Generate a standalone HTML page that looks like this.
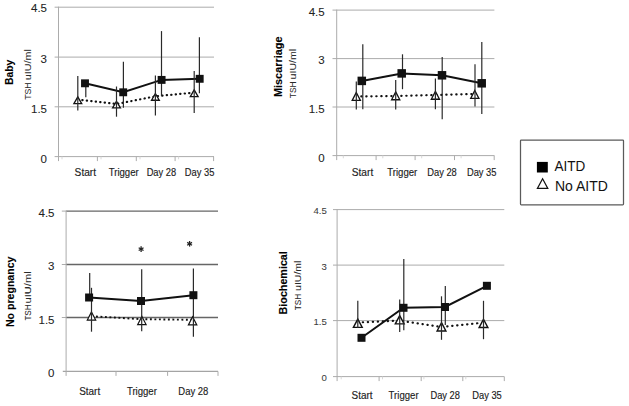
<!DOCTYPE html>
<html><head><meta charset="utf-8"><style>
html,body{margin:0;padding:0;background:#fff;width:629px;height:406px;overflow:hidden}
text{font-family:"Liberation Sans", sans-serif}
#wrap{width:629px;height:406px}
</style></head><body><div id="wrap">
<svg width="629" height="406" viewBox="0 0 629 406" style="display:block">
<rect width="629" height="406" fill="#fff"/>
<line x1="54.6" y1="7.2" x2="214" y2="7.2" stroke="#acacac" stroke-width="1"/>
<line x1="54.6" y1="57.1" x2="214" y2="57.1" stroke="#acacac" stroke-width="1"/>
<line x1="54.6" y1="106.8" x2="214" y2="106.8" stroke="#acacac" stroke-width="1"/>
<line x1="54.6" y1="156.6" x2="214" y2="156.6" stroke="#acacac" stroke-width="1"/>
<line x1="58.5" y1="6.7" x2="58.5" y2="161.1" stroke="#acacac" stroke-width="1"/>
<line x1="97.4" y1="156.6" x2="97.4" y2="161.1" stroke="#acacac" stroke-width="1"/>
<line x1="136.3" y1="156.6" x2="136.3" y2="161.1" stroke="#acacac" stroke-width="1"/>
<line x1="175.1" y1="156.6" x2="175.1" y2="161.1" stroke="#acacac" stroke-width="1"/>
<line x1="213.6" y1="156.6" x2="213.6" y2="161.1" stroke="#acacac" stroke-width="1"/>
<line x1="62" y1="156.6" x2="62" y2="159.29999999999998" stroke="#d8d8d8" stroke-width="1"/>
<line x1="101" y1="156.6" x2="101" y2="159.29999999999998" stroke="#d8d8d8" stroke-width="1"/>
<line x1="140" y1="156.6" x2="140" y2="159.29999999999998" stroke="#d8d8d8" stroke-width="1"/>
<line x1="178.6" y1="156.6" x2="178.6" y2="159.29999999999998" stroke="#d8d8d8" stroke-width="1"/>
<text x="47" y="12.4" text-anchor="end" font-size="11.5" font-weight="normal" fill="#222" stroke="#222" stroke-width="0.08">4.5</text>
<text x="47" y="62.6" text-anchor="end" font-size="11.5" font-weight="normal" fill="#222" stroke="#222" stroke-width="0.08">3</text>
<text x="47" y="113.1" text-anchor="end" font-size="11.5" font-weight="normal" fill="#222" stroke="#222" stroke-width="0.08">1.5</text>
<text x="47" y="162.6" text-anchor="end" font-size="11.5" font-weight="normal" fill="#222" stroke="#222" stroke-width="0.08">0</text>
<text x="85.35" y="176" text-anchor="middle" font-size="10.2" font-weight="normal" fill="#222" textLength="21.5" lengthAdjust="spacingAndGlyphs" stroke="#222" stroke-width="0.15">Start</text>
<text x="123.7" y="176" text-anchor="middle" font-size="10.2" font-weight="normal" fill="#222" textLength="30" lengthAdjust="spacingAndGlyphs" stroke="#222" stroke-width="0.15">Trigger</text>
<text x="161.4" y="176" text-anchor="middle" font-size="10.2" font-weight="normal" fill="#222" textLength="29.5" lengthAdjust="spacingAndGlyphs" stroke="#222" stroke-width="0.15">Day 28</text>
<text x="199.6" y="176" text-anchor="middle" font-size="10.2" font-weight="normal" fill="#222" textLength="29.5" lengthAdjust="spacingAndGlyphs" stroke="#222" stroke-width="0.15">Day 35</text>
<text transform="translate(13.3,72.3) rotate(-90)" text-anchor="middle" font-size="10" font-weight="bold" fill="#000" textLength="25.2" lengthAdjust="spacingAndGlyphs" stroke="#000" stroke-width="0.1">Baby</text>
<text transform="translate(31.0,99.8) rotate(-90)" text-anchor="start" font-size="9.8" font-weight="normal" fill="#2a2a2a" textLength="17.5" lengthAdjust="spacingAndGlyphs" stroke="#2a2a2a" stroke-width="0.05">TSH</text>
<text transform="translate(31.0,80.2) rotate(-90)" text-anchor="start" font-size="9.8" font-weight="normal" fill="#2a2a2a" textLength="31.0" lengthAdjust="spacingAndGlyphs" stroke="#2a2a2a" stroke-width="0.05">uIU/ml</text>
<polyline points="77.8,99.60000000000001 116.5,104.0 155.4,96.30000000000001 194.2,92.60000000000001" fill="none" stroke="#111" stroke-width="2.2" stroke-dasharray="0.3 4.2" stroke-linecap="round"/>
<polyline points="85,83.3 123.2,92.3 161.6,79.9 199.7,78.8" fill="none" stroke="#111" stroke-width="2"/>
<polygon points="77.80,96.85 81.70,103.55 73.90,103.55" fill="#fff" stroke="#111" stroke-width="1.3" stroke-linejoin="miter"/>
<polygon points="116.50,101.25 120.40,107.95 112.60,107.95" fill="#fff" stroke="#111" stroke-width="1.3" stroke-linejoin="miter"/>
<polygon points="155.40,93.55 159.30,100.25 151.50,100.25" fill="#fff" stroke="#111" stroke-width="1.3" stroke-linejoin="miter"/>
<polygon points="194.20,89.85 198.10,96.55 190.30,96.55" fill="#fff" stroke="#111" stroke-width="1.3" stroke-linejoin="miter"/>
<line x1="77.8" y1="76.1" x2="77.8" y2="110.6" stroke="#2a2a2a" stroke-width="1.2"/>
<line x1="116.5" y1="86.5" x2="116.5" y2="116.7" stroke="#2a2a2a" stroke-width="1.2"/>
<line x1="155.4" y1="75.6" x2="155.4" y2="115.6" stroke="#2a2a2a" stroke-width="1.2"/>
<line x1="194.2" y1="71.1" x2="194.2" y2="113" stroke="#2a2a2a" stroke-width="1.2"/>
<line x1="85.8" y1="83.3" x2="85.8" y2="97.2" stroke="#2a2a2a" stroke-width="1.2"/>
<line x1="123.4" y1="61.7" x2="123.4" y2="107.8" stroke="#2a2a2a" stroke-width="1.2"/>
<line x1="161.5" y1="31.1" x2="161.5" y2="96.2" stroke="#2a2a2a" stroke-width="1.2"/>
<line x1="199.4" y1="37.2" x2="199.4" y2="93.2" stroke="#2a2a2a" stroke-width="1.2"/>
<rect x="81.05" y="79.35" width="7.9" height="7.9" fill="#111"/>
<rect x="119.25" y="88.35" width="7.9" height="7.9" fill="#111"/>
<rect x="157.65" y="75.95" width="7.9" height="7.9" fill="#111"/>
<rect x="195.75" y="74.85" width="7.9" height="7.9" fill="#111"/>
<line x1="332.5" y1="10.1" x2="494.4" y2="10.1" stroke="#acacac" stroke-width="1"/>
<line x1="332.5" y1="58.6" x2="494.4" y2="58.6" stroke="#acacac" stroke-width="1"/>
<line x1="332.5" y1="107.0" x2="494.4" y2="107.0" stroke="#acacac" stroke-width="1"/>
<line x1="332.5" y1="155.6" x2="494.4" y2="155.6" stroke="#acacac" stroke-width="1"/>
<line x1="336.7" y1="9.6" x2="336.7" y2="160.1" stroke="#acacac" stroke-width="1"/>
<line x1="376.1" y1="155.6" x2="376.1" y2="160.1" stroke="#acacac" stroke-width="1"/>
<line x1="415.1" y1="155.6" x2="415.1" y2="160.1" stroke="#acacac" stroke-width="1"/>
<line x1="454.5" y1="155.6" x2="454.5" y2="160.1" stroke="#acacac" stroke-width="1"/>
<line x1="494.2" y1="155.6" x2="494.2" y2="160.1" stroke="#acacac" stroke-width="1"/>
<line x1="343.3" y1="155.6" x2="343.3" y2="158.29999999999998" stroke="#d8d8d8" stroke-width="1"/>
<line x1="382.8" y1="155.6" x2="382.8" y2="158.29999999999998" stroke="#d8d8d8" stroke-width="1"/>
<line x1="421.7" y1="155.6" x2="421.7" y2="158.29999999999998" stroke="#d8d8d8" stroke-width="1"/>
<line x1="461.1" y1="155.6" x2="461.1" y2="158.29999999999998" stroke="#d8d8d8" stroke-width="1"/>
<text x="324.7" y="16" text-anchor="end" font-size="11.5" font-weight="normal" fill="#222" stroke="#222" stroke-width="0.08">4.5</text>
<text x="324.7" y="64.3" text-anchor="end" font-size="11.5" font-weight="normal" fill="#222" stroke="#222" stroke-width="0.08">3</text>
<text x="324.7" y="113" text-anchor="end" font-size="11.5" font-weight="normal" fill="#222" stroke="#222" stroke-width="0.08">1.5</text>
<text x="324.7" y="161.8" text-anchor="end" font-size="11.5" font-weight="normal" fill="#222" stroke="#222" stroke-width="0.08">0</text>
<text x="362.5" y="176" text-anchor="middle" font-size="10.2" font-weight="normal" fill="#222" textLength="21.5" lengthAdjust="spacingAndGlyphs" stroke="#222" stroke-width="0.15">Start</text>
<text x="402.3" y="176" text-anchor="middle" font-size="10.2" font-weight="normal" fill="#222" textLength="30" lengthAdjust="spacingAndGlyphs" stroke="#222" stroke-width="0.15">Trigger</text>
<text x="442" y="176" text-anchor="middle" font-size="10.2" font-weight="normal" fill="#222" textLength="29.5" lengthAdjust="spacingAndGlyphs" stroke="#222" stroke-width="0.15">Day 28</text>
<text x="481.7" y="176" text-anchor="middle" font-size="10.2" font-weight="normal" fill="#222" textLength="29.5" lengthAdjust="spacingAndGlyphs" stroke="#222" stroke-width="0.15">Day 35</text>
<text transform="translate(281.7,66.8) rotate(-90)" text-anchor="middle" font-size="10" font-weight="bold" fill="#000" textLength="60.5" lengthAdjust="spacingAndGlyphs" stroke="#000" stroke-width="0.1">Miscarriage</text>
<text transform="translate(295.9,98.2) rotate(-90)" text-anchor="start" font-size="9.8" font-weight="normal" fill="#2a2a2a" textLength="16.8" lengthAdjust="spacingAndGlyphs" stroke="#2a2a2a" stroke-width="0.05">TSH</text>
<text transform="translate(295.9,79.4) rotate(-90)" text-anchor="start" font-size="9.8" font-weight="normal" fill="#2a2a2a" textLength="30.5" lengthAdjust="spacingAndGlyphs" stroke="#2a2a2a" stroke-width="0.05">uIU/ml</text>
<polyline points="356.3,96.5 395.7,96.0 435.4,95.0 474.8,94.0" fill="none" stroke="#111" stroke-width="2.2" stroke-dasharray="0.3 4.7" stroke-linecap="round"/>
<polyline points="361.8,80.9 401.7,73.4 442,75.3 481.7,83.3" fill="none" stroke="#111" stroke-width="2"/>
<polygon points="356.30,92.45 360.40,100.35 352.20,100.35" fill="#fff" stroke="#111" stroke-width="1.3" stroke-linejoin="miter"/>
<polygon points="395.70,91.85 399.80,99.75 391.60,99.75" fill="#fff" stroke="#111" stroke-width="1.3" stroke-linejoin="miter"/>
<polygon points="435.40,91.35 439.50,99.25 431.30,99.25" fill="#fff" stroke="#111" stroke-width="1.3" stroke-linejoin="miter"/>
<polygon points="474.80,90.45 478.90,98.35 470.70,98.35" fill="#fff" stroke="#111" stroke-width="1.3" stroke-linejoin="miter"/>
<line x1="356.3" y1="81.4" x2="356.3" y2="109.6" stroke="#2a2a2a" stroke-width="1.2"/>
<line x1="395.7" y1="80.1" x2="395.7" y2="109.6" stroke="#2a2a2a" stroke-width="1.2"/>
<line x1="435.4" y1="78.6" x2="435.4" y2="109.3" stroke="#2a2a2a" stroke-width="1.2"/>
<line x1="475.0" y1="64.3" x2="475.0" y2="106.4" stroke="#2a2a2a" stroke-width="1.2"/>
<line x1="362.8" y1="44.3" x2="362.8" y2="109.3" stroke="#2a2a2a" stroke-width="1.2"/>
<line x1="402.5" y1="54.3" x2="402.5" y2="89.2" stroke="#2a2a2a" stroke-width="1.2"/>
<line x1="442.2" y1="56.9" x2="442.2" y2="119.2" stroke="#2a2a2a" stroke-width="1.2"/>
<line x1="481.8" y1="42.1" x2="481.8" y2="114" stroke="#2a2a2a" stroke-width="1.2"/>
<rect x="357.55" y="76.65" width="8.5" height="8.5" fill="#111"/>
<rect x="397.45" y="69.15" width="8.5" height="8.5" fill="#111"/>
<rect x="437.75" y="71.05" width="8.5" height="8.5" fill="#111"/>
<rect x="477.45" y="79.05" width="8.5" height="8.5" fill="#111"/>
<line x1="61.8" y1="211.1" x2="66.1" y2="211.1" stroke="#acacac" stroke-width="1"/>
<line x1="66.1" y1="211.1" x2="218" y2="211.1" stroke="#666" stroke-width="1.3"/>
<line x1="61.8" y1="264.5" x2="66.1" y2="264.5" stroke="#acacac" stroke-width="1"/>
<line x1="66.1" y1="264.5" x2="218" y2="264.5" stroke="#666" stroke-width="1.3"/>
<line x1="61.8" y1="317.5" x2="66.1" y2="317.5" stroke="#acacac" stroke-width="1"/>
<line x1="66.1" y1="317.5" x2="218" y2="317.5" stroke="#666" stroke-width="1.3"/>
<line x1="62.8" y1="371.4" x2="218" y2="371.4" stroke="#a4a4a4" stroke-width="1.4"/>
<line x1="66.1" y1="210.6" x2="66.1" y2="375.9" stroke="#acacac" stroke-width="1"/>
<line x1="116" y1="371.4" x2="116" y2="375.9" stroke="#acacac" stroke-width="1"/>
<line x1="167.6" y1="371.4" x2="167.6" y2="375.9" stroke="#acacac" stroke-width="1"/>
<line x1="218" y1="371.4" x2="218" y2="375.9" stroke="#acacac" stroke-width="1"/>
<text x="54.5" y="216.9" text-anchor="end" font-size="11.5" font-weight="normal" fill="#222" stroke="#222" stroke-width="0.08">4.5</text>
<text x="54.5" y="270.3" text-anchor="end" font-size="11.5" font-weight="normal" fill="#222" stroke="#222" stroke-width="0.08">3</text>
<text x="54.5" y="323.9" text-anchor="end" font-size="11.5" font-weight="normal" fill="#222" stroke="#222" stroke-width="0.08">1.5</text>
<text x="54.5" y="377.1" text-anchor="end" font-size="11.5" font-weight="normal" fill="#222" stroke="#222" stroke-width="0.08">0</text>
<text x="89.7" y="394.5" text-anchor="middle" font-size="10.2" font-weight="normal" fill="#222" textLength="21" lengthAdjust="spacingAndGlyphs" stroke="#222" stroke-width="0.15">Start</text>
<text x="141.9" y="394.5" text-anchor="middle" font-size="10.2" font-weight="normal" fill="#222" textLength="30" lengthAdjust="spacingAndGlyphs" stroke="#222" stroke-width="0.15">Trigger</text>
<text x="193.3" y="394.5" text-anchor="middle" font-size="10.2" font-weight="normal" fill="#222" textLength="30" lengthAdjust="spacingAndGlyphs" stroke="#222" stroke-width="0.15">Day 28</text>
<text transform="translate(13.5,291.8) rotate(-90)" text-anchor="middle" font-size="10" font-weight="bold" fill="#000" textLength="70.5" lengthAdjust="spacingAndGlyphs" stroke="#000" stroke-width="0.1">No pregnancy</text>
<text transform="translate(30.6,320.6) rotate(-90)" text-anchor="start" font-size="9.8" font-weight="normal" fill="#2a2a2a" textLength="16.3" lengthAdjust="spacingAndGlyphs" stroke="#2a2a2a" stroke-width="0.05">TSH</text>
<text transform="translate(30.6,303.4) rotate(-90)" text-anchor="start" font-size="9.8" font-weight="normal" fill="#2a2a2a" textLength="32.0" lengthAdjust="spacingAndGlyphs" stroke="#2a2a2a" stroke-width="0.05">uIU/ml</text>
<polyline points="91.5,316.2 141.9,319.2 192.6,319.8" fill="none" stroke="#111" stroke-width="1.9" stroke-dasharray="1.9 2.6" stroke-linecap="butt"/>
<polyline points="89.1,297.5 141,301 193.4,295.2" fill="none" stroke="#111" stroke-width="2"/>
<polygon points="91.50,311.90 95.70,320.10 87.30,320.10" fill="#fff" stroke="#111" stroke-width="1.2" stroke-linejoin="miter"/>
<polygon points="141.90,316.40 146.10,324.60 137.70,324.60" fill="#fff" stroke="#111" stroke-width="1.2" stroke-linejoin="miter"/>
<polygon points="192.60,316.70 196.80,324.90 188.40,324.90" fill="#fff" stroke="#111" stroke-width="1.2" stroke-linejoin="miter"/>
<line x1="89.7" y1="273" x2="89.7" y2="301" stroke="#2a2a2a" stroke-width="1.2"/>
<line x1="91.5" y1="287.8" x2="91.5" y2="331.7" stroke="#2a2a2a" stroke-width="1.2"/>
<line x1="141.7" y1="269.2" x2="141.7" y2="331.2" stroke="#2a2a2a" stroke-width="1.2"/>
<line x1="193.4" y1="268.4" x2="193.4" y2="336.8" stroke="#2a2a2a" stroke-width="1.2"/>
<rect x="85.10" y="293.50" width="8" height="8" fill="#111"/>
<rect x="137.00" y="297.00" width="8" height="8" fill="#111"/>
<rect x="189.40" y="291.20" width="8" height="8" fill="#111"/>
<line x1="333" y1="209.6" x2="504.3" y2="209.6" stroke="#acacac" stroke-width="1"/>
<line x1="333" y1="265.1" x2="504.3" y2="265.1" stroke="#acacac" stroke-width="1"/>
<line x1="333" y1="320.6" x2="504.3" y2="320.6" stroke="#acacac" stroke-width="1"/>
<line x1="333" y1="376.6" x2="504.3" y2="376.6" stroke="#acacac" stroke-width="1"/>
<line x1="337.1" y1="209.1" x2="337.1" y2="381.1" stroke="#acacac" stroke-width="1"/>
<line x1="379.1" y1="376.6" x2="379.1" y2="381.1" stroke="#acacac" stroke-width="1"/>
<line x1="421.2" y1="376.6" x2="421.2" y2="381.1" stroke="#acacac" stroke-width="1"/>
<line x1="462.8" y1="376.6" x2="462.8" y2="381.1" stroke="#acacac" stroke-width="1"/>
<line x1="504.3" y1="376.6" x2="504.3" y2="381.1" stroke="#acacac" stroke-width="1"/>
<line x1="341.2" y1="376.6" x2="341.2" y2="379.3" stroke="#d8d8d8" stroke-width="1"/>
<line x1="382.5" y1="376.6" x2="382.5" y2="379.3" stroke="#d8d8d8" stroke-width="1"/>
<line x1="423.9" y1="376.6" x2="423.9" y2="379.3" stroke="#d8d8d8" stroke-width="1"/>
<line x1="465.8" y1="376.6" x2="465.8" y2="379.3" stroke="#d8d8d8" stroke-width="1"/>
<text x="326.8" y="214.3" text-anchor="end" font-size="9.6" font-weight="normal" fill="#3a3a3a" stroke="#3a3a3a" stroke-width="0.05">4.5</text>
<text x="326.8" y="270" text-anchor="end" font-size="9.6" font-weight="normal" fill="#3a3a3a" stroke="#3a3a3a" stroke-width="0.05">3</text>
<text x="326.8" y="324.8" text-anchor="end" font-size="9.6" font-weight="normal" fill="#3a3a3a" stroke="#3a3a3a" stroke-width="0.05">1.5</text>
<text x="326.8" y="381.4" text-anchor="end" font-size="9.6" font-weight="normal" fill="#3a3a3a" stroke="#3a3a3a" stroke-width="0.05">0</text>
<text x="362" y="398.8" text-anchor="middle" font-size="10.2" font-weight="normal" fill="#222" textLength="21" lengthAdjust="spacingAndGlyphs" stroke="#222" stroke-width="0.15">Start</text>
<text x="403.6" y="398.8" text-anchor="middle" font-size="10.2" font-weight="normal" fill="#222" textLength="30" lengthAdjust="spacingAndGlyphs" stroke="#222" stroke-width="0.15">Trigger</text>
<text x="445.2" y="398.8" text-anchor="middle" font-size="10.2" font-weight="normal" fill="#222" textLength="29.5" lengthAdjust="spacingAndGlyphs" stroke="#222" stroke-width="0.15">Day 28</text>
<text x="487" y="398.8" text-anchor="middle" font-size="10.2" font-weight="normal" fill="#222" textLength="29.5" lengthAdjust="spacingAndGlyphs" stroke="#222" stroke-width="0.15">Day 35</text>
<text transform="translate(286.6,282.8) rotate(-90)" text-anchor="middle" font-size="10" font-weight="bold" fill="#000" textLength="63.2" lengthAdjust="spacingAndGlyphs" stroke="#000" stroke-width="0.1">Biochemical</text>
<text transform="translate(301.4,310.2) rotate(-90)" text-anchor="start" font-size="9.8" font-weight="normal" fill="#2a2a2a" textLength="16.5" lengthAdjust="spacingAndGlyphs" stroke="#2a2a2a" stroke-width="0.05">TSH</text>
<text transform="translate(301.4,290.9) rotate(-90)" text-anchor="start" font-size="9.8" font-weight="normal" fill="#2a2a2a" textLength="30.3" lengthAdjust="spacingAndGlyphs" stroke="#2a2a2a" stroke-width="0.05">uIU/ml</text>
<polyline points="357.8,322.5 399.7,320.6 441.5,327.0 483.5,322.6" fill="none" stroke="#111" stroke-width="2.2" stroke-dasharray="0.3 4.7" stroke-linecap="round"/>
<polyline points="361.5,337.8 403.5,307.8 445,307 486.9,285.8" fill="none" stroke="#111" stroke-width="2"/>
<polygon points="357.80,319.05 362.20,327.35 353.40,327.35" fill="#fff" stroke="#111" stroke-width="1.4" stroke-linejoin="miter"/>
<polygon points="399.70,315.55 404.10,323.85 395.30,323.85" fill="#fff" stroke="#111" stroke-width="1.4" stroke-linejoin="miter"/>
<polygon points="441.50,322.65 445.90,330.95 437.10,330.95" fill="#fff" stroke="#111" stroke-width="1.4" stroke-linejoin="miter"/>
<polygon points="483.50,319.25 487.90,327.55 479.10,327.55" fill="#fff" stroke="#111" stroke-width="1.4" stroke-linejoin="miter"/>
<line x1="357.8" y1="300.8" x2="357.8" y2="328" stroke="#2a2a2a" stroke-width="1.2"/>
<line x1="399.7" y1="299.5" x2="399.7" y2="332.1" stroke="#2a2a2a" stroke-width="1.2"/>
<line x1="441.5" y1="296.3" x2="441.5" y2="339.8" stroke="#2a2a2a" stroke-width="1.2"/>
<line x1="483.5" y1="300.8" x2="483.5" y2="339.2" stroke="#2a2a2a" stroke-width="1.2"/>
<line x1="403.8" y1="259" x2="403.8" y2="330.2" stroke="#2a2a2a" stroke-width="1.2"/>
<line x1="445.3" y1="285.9" x2="445.3" y2="325.1" stroke="#2a2a2a" stroke-width="1.2"/>
<rect x="357.50" y="333.80" width="8.0" height="8.0" fill="#111"/>
<rect x="399.50" y="303.80" width="8.0" height="8.0" fill="#111"/>
<rect x="441.00" y="303.00" width="8.0" height="8.0" fill="#111"/>
<rect x="482.90" y="281.80" width="8.0" height="8.0" fill="#111"/>
<line x1="141.1" y1="246.3" x2="141.1" y2="251.9" stroke="#222" stroke-width="1.3"/>
<line x1="138.68" y1="247.7" x2="143.52" y2="250.5" stroke="#222" stroke-width="1.3"/>
<line x1="138.68" y1="250.5" x2="143.52" y2="247.7" stroke="#222" stroke-width="1.3"/>
<line x1="189.6" y1="241.0" x2="189.6" y2="246.6" stroke="#222" stroke-width="1.3"/>
<line x1="187.18" y1="242.4" x2="192.02" y2="245.2" stroke="#222" stroke-width="1.3"/>
<line x1="187.18" y1="245.2" x2="192.02" y2="242.4" stroke="#222" stroke-width="1.3"/>
<rect x="520.5" y="140" width="103" height="64.8" rx="0.8" fill="none" stroke="#5a5a5a" stroke-width="1.25"/>
<rect x="536.9" y="161.9" width="10.9" height="10.6" fill="#000"/>
<text x="554.4" y="170.6" text-anchor="start" font-size="14" font-weight="normal" fill="#111" textLength="30.8" lengthAdjust="spacingAndGlyphs">AITD</text>
<polygon points="542.6,178.8 547.8,188.4 537.4,188.4" fill="#fff" stroke="#111" stroke-width="1.2"/>
<text x="555.0" y="190.9" text-anchor="start" font-size="14" font-weight="normal" fill="#111" textLength="52.8" lengthAdjust="spacingAndGlyphs">No AITD</text>
</svg>
</div></body></html>
